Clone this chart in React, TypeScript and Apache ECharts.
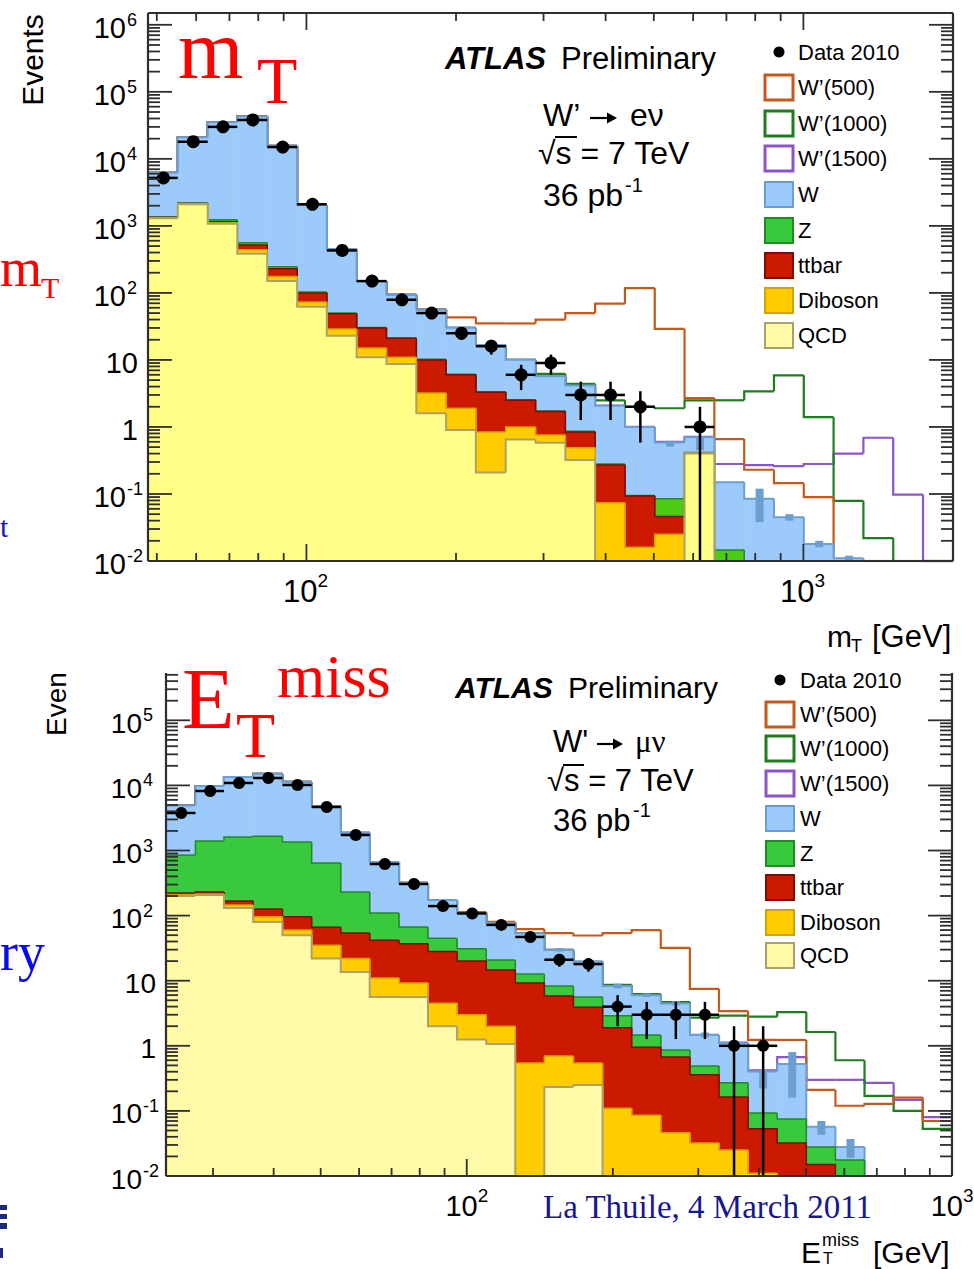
import React, { useEffect, useRef } from "react";
import * as echarts from "echarts";

// ================= top panel : mT, W' -> e nu =================
const mtEdges = [48, 55.1, 63.3, 72.6, 83.4, 95.8, 109.9, 126.2, 144.9, 166.4, 191.0, 219.3, 251.8, 289.1, 331.9, 381.0, 437.4, 502.2, 576.6, 662.0, 760.1, 872.6, 1001.9, 1150.2, 1320.6, 1516.2, 1740.7, 2000];
const mtQCD = [1300, 2100, 1080, 385, 150, 62, 23, 11, 8.7, 1.6, 0.9, 0.21, 0.65, 0.58, 0.32, 0, 0, 0, 0.4, 0, 0, 0, 0, 0, 0, 0, 0];
const mtDiboson = [20, 30, 30, 55, 25, 11, 6, 4, 2.3, 1.6, 1.0, 0.63, 0.35, 0.18, 0.17, 0.074, 0.016, 0.025, 0.01, 0, 0, 0, 0, 0, 0, 0, 0];
const mtTtbar = [20, 30, 40, 80, 55, 27, 20, 15, 10, 6.8, 4.1, 2.46, 1.5, 0.94, 0.35, 0.196, 0.077, 0.021, 0, 0, 0, 0, 0, 0, 0, 0, 0];
const mtZ = [20, 30, 80, 40, 15, 3, 1, 0.5, 0.3, 0.2, 0.1, 0.05, 0.05, 0.03, 0.02, 0.01, 0.002, 0.039, 0.005, 0.0146, 0, 0, 0, 0, 0, 0, 0];
const mtW = [4840, 18800, 33800, 42400, 15400, 1950, 400, 120, 72, 46, 24, 13.3, 7.5, 4.0, 3.3, 1.8, 0.9, 0.5, 0.29, 0.135, 0.085, 0.045, 0.018, 0.011, 0, 0, 0];
const mtWp500 = [6200, 21000, 35000, 43000, 15600, 2050, 450, 150, 95, 57, 43, 35, 35, 40, 50, 69, 118, 29, 2.7, 0.66, 0.23, 0.145, 0.09, 0, 0, 0, 0];
const mtWp1000 = [6200, 21000, 35000, 43000, 15600, 2050, 450, 150, 93, 56, 30, 16.6, 10, 6.2, 4.4, 2.5, 2.0, 1.9, 2.5, 2.5, 3.4, 5.9, 1.4, 0.079, 0.022, 0, 0];
const mtWp1500 = [6200, 21000, 35000, 43000, 15600, 2050, 450, 150, 93, 56, 30, 16.6, 10, 5.7, 4.1, 2.08, 1.0, 0.6, 0.71, 0.28, 0.27, 0.26, 0.28, 0.4, 0.69, 0.098, 0];
const mtData = [5200, 18000, 30000, 38000, 15000, 2100, 430, 150, 79, 50, 25, 16, 6, 9, 3, 3, 2, 0, 1, 0, 0, 0, 0, 0, 0, 0, 0];
const mtWErrLo = [null, null, null, null, null, null, null, null, null, null, null, null, null, null, null, null, null, 0.51, 0.45, null, 0.038, 0.04, 0.016, 0.0098, null, null, null];
const mtWErrHi = [null, null, null, null, null, null, null, null, null, null, null, null, null, null, null, null, null, 0.62, 0.72, null, 0.12, 0.05, 0.02, 0.012, null, null, null];
const mtYExps = [-2, -1, 0, 1, 2, 3, 4, 5, 6];
const mtXExps = [2, 3];

// ================= bottom panel : ETmiss, W' -> mu nu =================
const metEdges = [24, 27.6, 31.6, 36.3, 41.7, 47.9, 55.0, 63.1, 72.5, 83.2, 95.5, 109.7, 125.9, 144.5, 165.9, 190.5, 218.7, 251.1, 288.3, 331.0, 380.0, 436.3, 500.9, 575.1, 660.3, 758.1, 870.4, 1000];
const metQCD = [200, 207, 131, 80, 50, 22, 13.6, 5.6, 5.6, 2.0, 1.25, 1.07, 0, 0.233, 0.25, 0, 0, 0, 0, 0, 0, 0, 0, 0, 0, 0, 0];
const metDiboson = [10, 8, 15, 16, 10, 13, 8.4, 5.4, 3.6, 2.5, 1.75, 0.93, 0.545, 0.467, 0.295, 0.11, 0.086, 0.046, 0.032, 0.025, 0.011, 0, 0, 0, 0, 0, 0];
const metTtbar = [12, 15, 22, 30, 36, 31, 32, 31, 27.8, 23.5, 17, 12.6, 8.65, 5.1, 3.36, 1.79, 0.864, 0.624, 0.328, 0.139, 0.042, 0.032, 0.015, 0, 0, 0, 0];
const metZ = [628, 1170, 1442, 1534, 1254, 579, 176, 68, 30, 17, 11, 6.2, 3.5, 2.5, 1.7, 1.0, 0.52, 0.19, 0.13, 0.106, 0.04, 0.043, 0.013, 0.0176, 0, 0, 0];
const metW = [4050, 8400, 11800, 13300, 9950, 4150, 1630, 555, 251, 128, 79, 56, 41, 21.4, 13.9, 5.4, 4.5, 3.6, 0.98, 0.83, 0.31, 0.45, 0.029, 0.0104, 0, 0, 0];
const metWp500 = [4900, 9800, 13400, 15000, 11300, 4800, 1860, 665, 318, 173, 113, 80, 62, 54, 49.5, 54, 60, 32, 7.5, 3.4, 1.23, 1.23, 0.21, 0.12, 0.128, 0.16, 0.07];
const metWp1000 = [4900, 9800, 13400, 15000, 11300, 4800, 1860, 665, 318, 173, 110, 77, 54, 29.7, 19.5, 8.6, 6.2, 4.7, 2.7, 2.9, 2.8, 3.3, 1.63, 0.6, 0.17, 0.1, 0.053];
const metWp1500 = [4900, 9800, 13400, 15000, 11300, 4800, 1860, 665, 318, 173, 110, 77, 54, 29.7, 19.5, 8.3, 6.0, 4.6, 1.47, 1.12, 0.42, 0.67, 0.3, 0.3, 0.27, 0.147, 0.08];
const metData = [3770, 8200, 10900, 13000, 10150, 4660, 1730, 620, 306, 140, 108, 72, 47, 21, 18, 4, 3, 3, 3, 1, 1, 0, 0, 0, 0, 0, 0];
const metWErrLo = [null, null, null, null, null, null, null, null, null, null, null, null, null, 28, null, 7.6, 5.6, 4.2, 1.35, 1.0, 0.22, 0.16, 0.043, 0.019, null, null, null];
const metWErrHi = [null, null, null, null, null, null, null, null, null, null, null, null, null, 31.5, null, 9.0, 6.4, 4.8, 1.6, 1.2, 0.42, 0.8, 0.07, 0.037, null, null, null];
const metYExps = [-2, -1, 0, 1, 2, 3, 4, 5];
const metXExps = [2, 3];

const legendLabels = ["Data 2010", "W\u2019(500)", "W\u2019(1000)", "W\u2019(1500)", "W", "Z", "ttbar", "Diboson", "QCD"];

const SANS = '"Liberation Sans", Arial, Helvetica, sans-serif';
const SERIF = '"Liberation Serif", "Times New Roman", serif';
const ARROWFONT = '"DejaVu Sans", sans-serif';

const COL = {
  W: "#9ccbfb", Wl: "#6b9ed4",
  Ztop: "#4ccb14", Zbot: "#38c93c", Zl: "#238a23",
  tt: "#cc1a00", ttl: "#7d0d00",
  VV: "#ffcc00", VVl: "#d4a300",
  QCDtop: "#ffff88", QCDbot: "#fffaa8", QCDl: "#a9a06a",
  wp500: "#c45a1a", wp1000: "#1e7d1e", wp1500: "#8c55c8",
  err: "#6b9fd0", frame: "#2e2e2e",
};

const YMIN = 0.01;

function cumulate(layers: number[][]) {
  const out: number[][] = [];
  let run = layers[0].map(() => 0);
  for (const l of layers) {
    run = run.map((r, i) => r + l[i]);
    out.push(run);
  }
  return out;
}

function stepLayer(gi: number, edges: number[], tops: number[], fill: string | null, stroke: string | null, lw: number, z: number) {
  const cl = (v: number) => (v > YMIN ? v : YMIN);
  return {
    type: "custom", coordinateSystem: "cartesian2d", xAxisIndex: gi, yAxisIndex: gi,
    z, silent: true, clip: false,
    data: tops.map((v, i) => [(edges[i] + edges[i + 1]) / 2, cl(v)]),
    renderItem: (params: any, api: any) => {
      const i = params.dataIndex;
      const v = cl(tops[i]);
      const a = api.coord([edges[i], v]);
      const b = api.coord([edges[i + 1], v]);
      const children: any[] = [];
      if (fill && tops[i] > YMIN) {
        const bot = api.coord([edges[i], YMIN]);
        children.push({ type: "rect", shape: { x: a[0], y: a[1], width: b[0] - a[0] + 0.6, height: bot[1] - a[1] }, style: { fill, stroke: "none" } });
      }
      if (stroke) {
        const pts: number[][] = [];
        if (i > 0) pts.push([a[0], api.coord([edges[i], cl(tops[i - 1])])[1]]);
        pts.push([a[0], a[1]], [b[0], b[1]]);
        children.push({ type: "polyline", shape: { points: pts }, style: { stroke, lineWidth: lw, fill: "none", lineJoin: "miter" } });
      }
      return { type: "group", children };
    },
  };
}

function mcErrLayer(gi: number, edges: number[], lo: (number | null)[], hi: (number | null)[], z: number) {
  return {
    type: "custom", coordinateSystem: "cartesian2d", xAxisIndex: gi, yAxisIndex: gi,
    z, silent: true, clip: false,
    data: lo.map((v, i) => [(edges[i] + edges[i + 1]) / 2, v == null ? 1 : v]),
    renderItem: (params: any, api: any) => {
      const i = params.dataIndex;
      if (lo[i] == null || hi[i] == null) return { type: "group", children: [] };
      const xc = (edges[i] + edges[i + 1]) / 2;
      const p1 = api.coord([xc, hi[i]]);
      const p2 = api.coord([xc, lo[i]]);
      return { type: "rect", shape: { x: p1[0] - 4, y: p1[1], width: 8, height: p2[1] - p1[1] }, style: { fill: COL.err, stroke: "none" } };
    },
  };
}

function dataLayer(gi: number, edges: number[], counts: number[], r: number, z: number) {
  return {
    type: "custom", coordinateSystem: "cartesian2d", xAxisIndex: gi, yAxisIndex: gi,
    z, silent: true, clip: false,
    data: counts.map((n, i) => [(edges[i] + edges[i + 1]) / 2, n > 0 ? n : YMIN]),
    renderItem: (params: any, api: any) => {
      const i = params.dataIndex;
      const n = counts[i];
      if (!(n > 0)) return { type: "group", children: [] };
      const xc = (edges[i] + edges[i + 1]) / 2;
      const s = Math.sqrt(n);
      const c = api.coord([xc, n]);
      const l = api.coord([edges[i], n]);
      const rr = api.coord([edges[i + 1], n]);
      const hi = api.coord([xc, n + s]);
      const lo = api.coord([xc, Math.max(n - s, YMIN)]);
      return {
        type: "group",
        children: [
          { type: "line", shape: { x1: l[0], y1: c[1], x2: rr[0], y2: c[1] }, style: { stroke: "#000", lineWidth: 2.5 } },
          { type: "line", shape: { x1: c[0], y1: hi[1], x2: c[0], y2: lo[1] }, style: { stroke: "#000", lineWidth: 2.5 } },
          { type: "circle", shape: { cx: c[0], cy: c[1], r }, style: { fill: "#000", stroke: "none" } },
        ],
      };
    },
  };
}

function txt(text: string, x: number, y: number, font: string, fill = "#000", align = "left") {
  return { type: "text", style: { text, x, y, font, fill, align, textAlign: align, verticalAlign: "middle", textVerticalAlign: "middle" } };
}

function axesLayer(gi: number, cfg: any) {
  const { xmin, xmax, ymax, topFrame, yExps, xExps, yBaseOff, yPlainOff, yFont, xFont, supFont } = cfg;
  return {
    type: "custom", coordinateSystem: "cartesian2d", xAxisIndex: gi, yAxisIndex: gi,
    z: 20, silent: true, clip: false,
    data: [[Math.sqrt(xmin * xmax), 1]],
    renderItem: (params: any, api: any) => {
      const P = (x: number, y: number) => api.coord([x, y]);
      const [xL, yB] = P(xmin, YMIN);
      const [xR, yT] = P(xmax, ymax);
      const ch: any[] = [];
      const ln = (x1: number, y1: number, x2: number, y2: number, w = 1.8) =>
        ch.push({ type: "line", shape: { x1, y1, x2, y2 }, style: { stroke: COL.frame, lineWidth: w } });
      for (let e = -3; e <= 7; e++) {
        for (let m = 1; m <= 9; m++) {
          const v = m * Math.pow(10, e);
          if (v < YMIN * 0.999 || v > ymax) continue;
          const y = P(xmin, v)[1];
          const len = m === 1 ? 24 : 12;
          ln(xL, y, xL + len, y);
          ln(xR, y, xR - len, y);
        }
      }
      for (let e = 0; e <= 4; e++) {
        for (let m = 1; m <= 9; m++) {
          const v = m * Math.pow(10, e);
          if (v < xmin || v > xmax) continue;
          const x = P(v, YMIN)[0];
          const len = m === 1 ? 17 : 8;
          ln(x, yB, x, yB - len);
          if (topFrame) ln(x, yT, x, yT + len);
        }
      }
      ln(xL, yT, xL, yB, 2.2);
      ln(xR, yT, xR, yB, 2.2);
      ln(xL, yB, xR, yB, 2.2);
      if (topFrame) ln(xL, yT, xR, yT, 2.2);
      for (const e of yExps) {
        const y = P(xmin, Math.pow(10, e))[1];
        if (e === 0 || e === 1) {
          ch.push(txt(e === 0 ? "1" : "10", xL - yPlainOff, y + 3, `${yFont}px ${SANS}`, "#000", "right"));
        } else {
          ch.push(txt("10", xL - yBaseOff, y + 3, `${yFont}px ${SANS}`, "#000", "right"));
          ch.push(txt(String(e), xL - yBaseOff + 1, y - 5, `${supFont}px ${SANS}`, "#000", "left"));
        }
      }
      for (const e of xExps) {
        const x = P(Math.pow(10, e), YMIN)[0];
        ch.push(txt("10", x + 11, yB + 30, `${xFont}px ${SANS}`, "#000", "right"));
        ch.push(txt(String(e), x + 11, yB + 19, `${supFont + 1}px ${SANS}`, "#000", "left"));
      }
      return { type: "group", children: ch };
    },
  };
}

function panelSeries(gi: number, p: any) {
  const [Y, O, R, Gc, B] = cumulate([p.qcd, p.vv, p.tt, p.z, p.w]);
  return [
    stepLayer(gi, p.edges, p.wp1500, null, COL.wp1500, 2.2, 2),
    stepLayer(gi, p.edges, p.wp1000, null, COL.wp1000, 2.2, 2),
    stepLayer(gi, p.edges, p.wp500, null, COL.wp500, 2.2, 2),
    stepLayer(gi, p.edges, B, COL.W, COL.Wl, 2, 3),
    stepLayer(gi, p.edges, Gc, p.zCol, COL.Zl, 1.5, 3),
    stepLayer(gi, p.edges, R, COL.tt, COL.ttl, 1.5, 3),
    stepLayer(gi, p.edges, O, COL.VV, COL.VVl, 1.5, 3),
    stepLayer(gi, p.edges, Y, p.qcdCol, COL.QCDl, 2, 3),
    mcErrLayer(gi, p.edges, p.errLo, p.errHi, 4),
    dataLayer(gi, p.edges, p.data, p.r, 5),
  ];
}

function G(text: string, x: number, y: number, font: string, fill = "#000", rotation = 0, align = "left") {
  return {
    type: "text", x, y, rotation, silent: true, z: 100,
    style: { text, font, fill, align, textAlign: align, verticalAlign: "middle", textVerticalAlign: "middle" },
  };
}

function R(x: number, y: number, w: number, h: number, fill: string) {
  return { type: "rect", silent: true, z: 100, shape: { x, y, width: w, height: h }, style: { fill } };
}

function arrow(x1: number, x2: number, y: number) {
  return [
    { type: "line", silent: true, z: 100, shape: { x1, y1: y, x2: x2 - 2, y2: y }, style: { stroke: "#000", lineWidth: 2.2 } },
    { type: "polygon", silent: true, z: 100, shape: { points: [[x2, y], [x2 - 10, y - 5.5], [x2 - 10, y + 5.5]] }, style: { fill: "#000" } },
  ];
}

function legend(boxX: number, textX: number, ys: number[]) {
  const els: any[] = [];
  const kinds = [
    null,
    { fill: "#fff", stroke: COL.wp500, lw: 3 },
    { fill: "#fff", stroke: COL.wp1000, lw: 3 },
    { fill: "#fff", stroke: COL.wp1500, lw: 3 },
    { fill: COL.W, stroke: COL.Wl, lw: 2 },
    { fill: COL.Zbot, stroke: COL.Zl, lw: 2 },
    { fill: COL.tt, stroke: COL.ttl, lw: 2 },
    { fill: COL.VV, stroke: COL.VVl, lw: 2 },
    { fill: COL.QCDbot, stroke: COL.QCDl, lw: 2 },
  ];
  legendLabels.forEach((lab, i) => {
    const y = ys[i];
    const k = kinds[i];
    if (!k) {
      els.push({ type: "circle", silent: true, z: 100, shape: { cx: boxX + 14, cy: y, r: 5.5 }, style: { fill: "#000" } });
    } else {
      els.push({ type: "rect", silent: true, z: 100, shape: { x: boxX, y: y - 12, width: 28, height: 25 }, style: { fill: k.fill, stroke: k.stroke, lineWidth: k.lw } });
    }
    els.push(G(lab, textX, y, `22px ${SANS}`));
  });
  return els;
}

export default function App() {
  const ref = useRef<HTMLDivElement>(null);
  useEffect(() => {
    if (!ref.current) return;
    const chart = echarts.init(ref.current, undefined, { renderer: "svg" });
    const top = {
      edges: mtEdges, qcd: mtQCD, vv: mtDiboson, tt: mtTtbar, z: mtZ, w: mtW,
      wp500: mtWp500, wp1000: mtWp1000, wp1500: mtWp1500, data: mtData,
      errLo: mtWErrLo, errHi: mtWErrHi, zCol: COL.Ztop, qcdCol: COL.QCDtop, r: 6.5,
    };
    const bot = {
      edges: metEdges, qcd: metQCD, vv: metDiboson, tt: metTtbar, z: metZ, w: metW,
      wp500: metWp500, wp1000: metWp1000, wp1500: metWp1500, data: metData,
      errLo: metWErrLo, errHi: metWErrHi, zCol: COL.Zbot, qcdCol: COL.QCDbot, r: 6,
    };
    const option: any = {
      animation: false,
      backgroundColor: "#ffffff",
      grid: [
        { left: 148, top: 13, width: 805, height: 548 },
        { left: 166, top: 673, width: 786, height: 503 },
      ],
      xAxis: [
        { type: "log", gridIndex: 0, min: mtEdges[0], max: mtEdges[mtEdges.length - 1], show: false },
        { type: "log", gridIndex: 1, min: metEdges[0], max: metEdges[metEdges.length - 1], show: false },
      ],
      yAxis: [
        { type: "log", gridIndex: 0, min: YMIN, max: 1.5e6, show: false },
        { type: "log", gridIndex: 1, min: YMIN, max: 5.33e5, show: false },
      ],
      series: [
        ...panelSeries(0, top),
        ...panelSeries(1, bot),
        axesLayer(0, { xmin: mtEdges[0], xmax: mtEdges[mtEdges.length - 1], ymax: 1.5e6, topFrame: true, yExps: mtYExps, xExps: mtXExps, yBaseOff: 22, yPlainOff: 10, yFont: 29, xFont: 31, supFont: 18 }),
        axesLayer(1, { xmin: metEdges[0], xmax: metEdges[metEdges.length - 1], ymax: 5.33e5, topFrame: false, yExps: metYExps, xExps: metXExps, yBaseOff: 24, yPlainOff: 10, yFont: 28, xFont: 29, supFont: 18 }),
      ],
      graphic: [
        // slide fragments at the left edge
        G("m", 0, 268, `54px ${SERIF}`, "#ff0000"),
        G("T", 41, 287, `30px ${SERIF}`, "#ff0000"),
        G("t", 0, 526, `30px ${SERIF}`, "#1a1ab0"),
        G("ry", 0, 952, `54px ${SERIF}`, "#0a0aee"),
        R(0, 1205, 7, 5, "#1a2a80"),
        R(0, 1214, 7, 5, "#1a2a80"),
        R(0, 1223, 7, 6, "#1a2a80"),
        R(0, 1248, 3, 10, "#1a2a80"),
        G("La Thuile, 4 March 2011", 543, 1207, `33px ${SERIF}`, "#161690"),
        // big red titles
        G("m", 178, 49, `84px ${SERIF}`, "#ff0000"),
        G("T", 257, 80, `66px ${SERIF}`, "#ff0000"),
        G("E", 182, 699, `86px ${SERIF}`, "#ff0000"),
        G("T", 236, 735, `64px ${SERIF}`, "#ff0000"),
        G("miss", 277, 676, `62px ${SERIF}`, "#ff0000"),
        // axis titles
        G("Events", 32, 60, `30px ${SANS}`, "#000", Math.PI / 2, "center"),
        G("Even", 56, 704, `28px ${SANS}`, "#000", Math.PI / 2, "center"),
        G("m", 827, 636, `30px ${SANS}`),
        G("T", 851, 646, `18px ${SANS}`),
        G("[GeV]", 872, 636, `31px ${SANS}`),
        G("E", 801, 1252, `30px ${SANS}`),
        G("miss", 822, 1240, `18px ${SANS}`),
        G("T", 823, 1258, `16px ${SANS}`),
        G("[GeV]", 873, 1252, `30px ${SANS}`),
        // ATLAS labels
        G("ATLAS", 445, 58, `italic bold 31px ${SANS}`),
        G("Preliminary", 561, 58, `31px ${SANS}`),
        G("ATLAS", 455, 687, `italic bold 30px ${SANS}`),
        G("Preliminary", 568, 687, `30px ${SANS}`),
        G("W\u2019", 543, 115, `32px ${SANS}`),
        ...arrow(590, 617, 118),
        G("e\u03bd", 630, 115, `32px ${SANS}`),
        G("\u221as = 7 TeV", 538, 153, `32px ${SANS}`),
        G("36 pb", 543, 195, `32px ${SANS}`),
        G("-1", 625, 185, `20px ${SANS}`),
        { type: "line", silent: true, z: 100, shape: { x1: 555, y1: 137, x2: 577, y2: 137 }, style: { stroke: "#000", lineWidth: 2 } },
        G("W'", 553, 741, `31px ${SANS}`),
        ...arrow(597, 623, 744),
        G("\u03bc\u03bd", 635, 741, `31px ${SERIF}`),
        G("\u221as = 7 TeV", 547, 780, `31px ${SANS}`),
        G("36 pb", 553, 820, `31px ${SANS}`),
        G("-1", 633, 810, `20px ${SANS}`),
        { type: "line", silent: true, z: 100, shape: { x1: 563, y1: 765, x2: 584, y2: 765 }, style: { stroke: "#000", lineWidth: 2 } },
        ...legend(765, 798, [52, 87, 123, 158, 194, 230, 265, 300, 335]),
        ...legend(766, 800, [680, 714, 748, 783, 818, 853, 887, 922, 955]),
      ],
    };
    chart.setOption(option);
    return () => chart.dispose();
  }, []);
  return <div ref={ref} style={{ position: "absolute", left: 0, top: 0, width: 974, height: 1269, background: "#fff" }} />;
}
